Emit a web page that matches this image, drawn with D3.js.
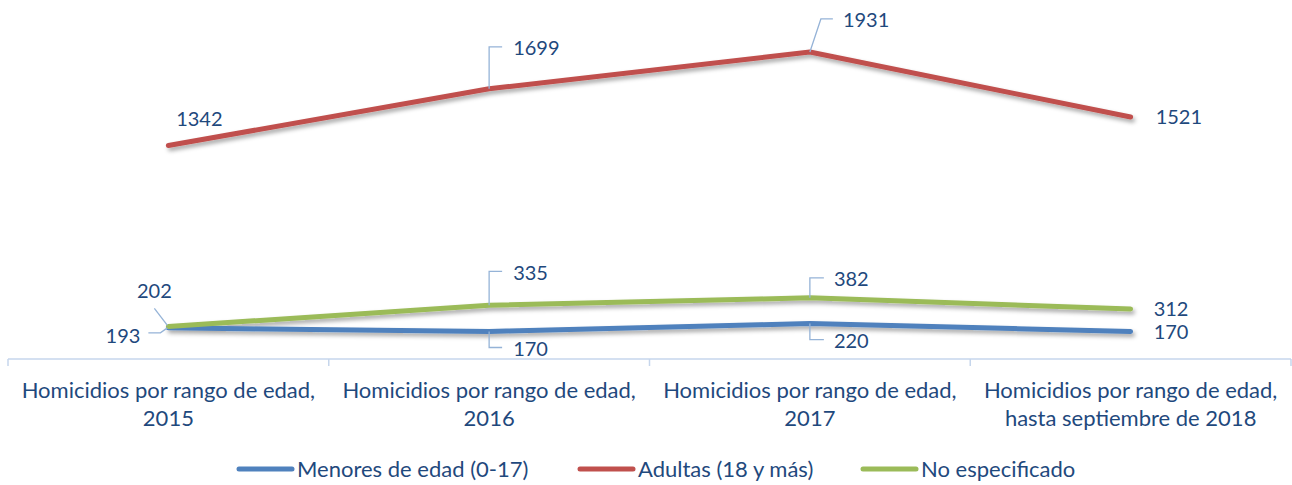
<!DOCTYPE html>
<html>
<head>
<meta charset="utf-8">
<script src="https://cdn.jsdelivr.net/npm/d3@7"></script>
<style>
  body { margin: 0; background: #fff; }
  svg { display: block; font-family: Lato, "Liberation Sans", sans-serif; }
</style>
</head>
<body>
<svg id="chart" width="1292" height="485"></svg>
<script>
// data
const categories = [
  ["Homicidios por rango de edad,", "2015"],
  ["Homicidios por rango de edad,", "2016"],
  ["Homicidios por rango de edad,", "2017"],
  ["Homicidios por rango de edad,", "hasta septiembre de 2018"]
];
const seriesNames = ["Menores de edad (0-17)", "Adultas (18 y más)", "No especificado"];
const menores = [193, 170, 220, 170];
const adultas = [1342, 1699, 1931, 1521];
const noEspecificado = [202, 335, 382, 312];

// label placement (layout only)
const labelLayout = [
  [ { dx: -28, dy: 8, anchor: "end", leader: [[-20, 5], [-8, 5], [-1, 0]] },
    { dx: 24, dy: 17, anchor: "start", leader: [[0, 0], [0, 16], [13, 16]] },
    { dx: 24, dy: 17, anchor: "start", leader: [[0, 0], [0, 16], [14, 16]] },
    { dx: 23, dy: 0, anchor: "start", leader: null } ],
  [ { dx: 31, dy: -26, anchor: "middle", leader: null },
    { dx: 24, dy: -41, anchor: "start", leader: [[0, 0], [0, -42], [13, -42]] },
    { dx: 33, dy: -32, anchor: "start", leader: [[0, 0], [11, -33], [23, -33]] },
    { dx: 25, dy: 0, anchor: "start", leader: null } ],
  [ { dx: -14, dy: -35, anchor: "middle", leader: [[-14, -18], [-1, -1]] },
    { dx: 24, dy: -32, anchor: "start", leader: [[0, 0], [0, -34], [13, -34]] },
    { dx: 24, dy: -19, anchor: "start", leader: [[0, 0], [0, -20], [14, -20]] },
    { dx: 23, dy: 0, anchor: "start", leader: null } ]
];

const colors = ["#4F81BD", "#C0504D", "#9BBB59"];
const textColor = "#1F497D";
const axisColor = "#C6D6EC";
const leaderColor = "#95B3D7";

const svg = d3.select("#chart");

const defs = svg.append("defs");
defs.append("filter")
  .attr("id", "shadow")
  .attr("x", "-10%").attr("y", "-50%")
  .attr("width", "120%").attr("height", "200%")
  .append("feDropShadow")
  .attr("dx", 2).attr("dy", 3)
  .attr("stdDeviation", 2)
  .attr("flood-color", "#000")
  .attr("flood-opacity", 0.35);

const x = d3.scaleBand()
  .domain(d3.range(categories.length))
  .range([8, 1291]);

const y = d3.scaleLinear()
  .domain([0, 2000])
  .range([358.5, 41]);

// category axis
const gx = svg.append("g").attr("transform", "translate(0,359)");
gx.append("line")
  .attr("x1", x.range()[0]).attr("x2", x.range()[1])
  .attr("stroke", axisColor).attr("stroke-width", 1.5);
gx.selectAll("line.tick")
  .data(d3.range(categories.length + 1))
  .join("line")
  .attr("class", "tick")
  .attr("x1", (d) => x.range()[0] + d * x.step())
  .attr("x2", (d) => x.range()[0] + d * x.step())
  .attr("y1", 0).attr("y2", 7)
  .attr("stroke", axisColor).attr("stroke-width", 1.5);

const catText = gx.selectAll("text.cat")
  .data(categories)
  .join("text")
  .attr("class", "cat")
  .attr("text-anchor", "middle")
  .attr("fill", textColor)
  .style("font-size", "22px")
  .attr("transform", (d, i) => "translate(" + (x(i) + x.bandwidth() / 2) + ",39)");
catText.selectAll("tspan")
  .data((d) => d)
  .join("tspan")
  .attr("x", 0)
  .attr("dy", (d, i) => (i === 0 ? 0 : 28))
  .text((d) => d);

// lines
const allSeries = [menores, adultas, noEspecificado];
const line = d3.line()
  .x((d, i) => x(i) + x.bandwidth() / 2)
  .y((d) => y(d));

svg.append("g")
  .attr("filter", "url(#shadow)")
  .selectAll("path")
  .data(allSeries)
  .join("path")
  .attr("d", line)
  .attr("fill", "none")
  .attr("stroke", (d, i) => colors[i])
  .attr("stroke-width", 5)
  .attr("stroke-linecap", "round")
  .attr("stroke-linejoin", "round");

// data labels and leader lines
const gl = svg.append("g");
allSeries.forEach((values, s) => {
  values.forEach((v, i) => {
    const px = x(i) + x.bandwidth() / 2;
    const py = y(v);
    const lay = labelLayout[s][i];
    if (lay.leader) {
      gl.append("path")
        .attr("d", d3.line()(lay.leader.map((p) => [px + p[0], py + p[1]])))
        .attr("fill", "none")
        .attr("stroke", leaderColor)
        .attr("stroke-width", 1.3);
    }
    gl.append("text")
      .attr("x", px + lay.dx)
      .attr("y", py + lay.dy)
      .attr("dy", "0.35em")
      .attr("text-anchor", lay.anchor)
      .attr("fill", textColor)
      .style("font-size", "20px")
      .text(v);
  });
});

// legend
const legendX = [237, 578, 861];
const gLeg = svg.append("g").attr("transform", "translate(0,469)");
seriesNames.forEach((name, i) => {
  gLeg.append("line")
    .attr("x1", legendX[i] + 2).attr("x2", legendX[i] + 55)
    .attr("y1", 0).attr("y2", 0)
    .attr("stroke", colors[i])
    .attr("stroke-width", 5)
    .attr("stroke-linecap", "round");
  gLeg.append("text")
    .attr("x", legendX[i] + 60)
    .attr("y", 0)
    .attr("dy", "0.35em")
    .attr("fill", textColor)
    .style("font-size", "22px")
    .text(name);
});
</script>
</body>
</html>
